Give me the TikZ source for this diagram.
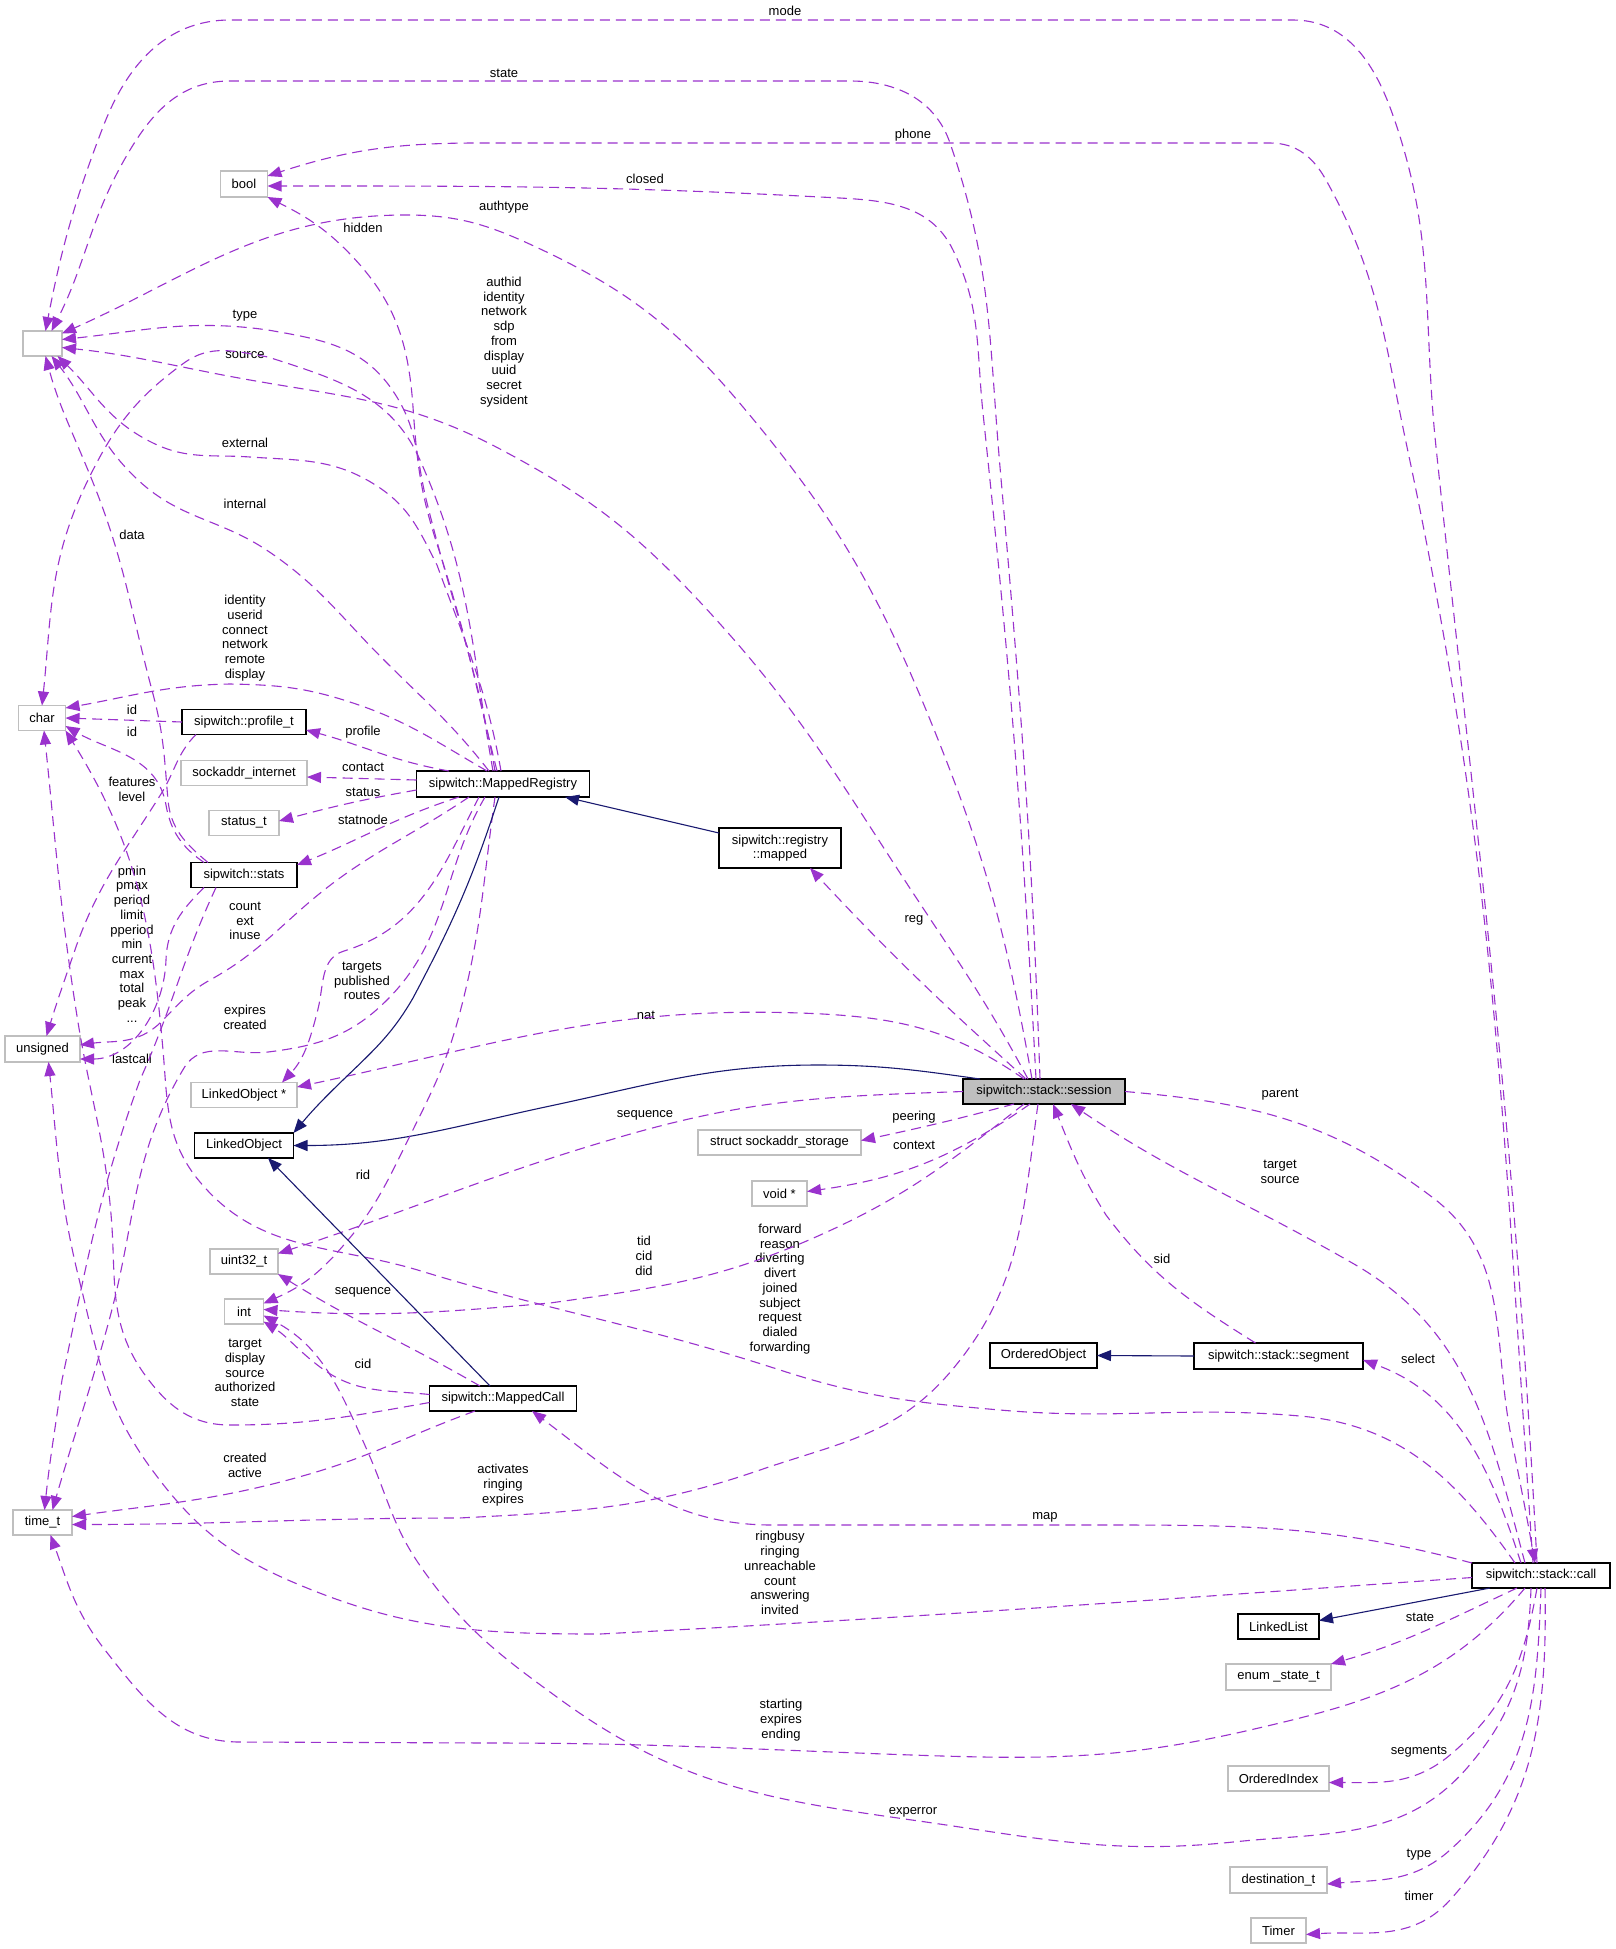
\documentclass[tikz,border=0pt]{standalone}
\usepackage{fontspec}
\setmainfont{Liberation Sans}
\usepackage{tikz}
\usetikzlibrary{arrows.meta}
\definecolor{usecol}{HTML}{9A32CD}
\definecolor{inhcol}{HTML}{191970}
\definecolor{framegray}{HTML}{BFBFBF}
\newcommand{\dotfont}{\fontsize{6.5}{7.35}\selectfont}
\tikzset{
  clase/.style={rectangle,draw=black,line width=0.6pt,fill=white,
    font=\dotfont,inner sep=0pt,minimum height=12.5pt,align=center},
  tipo/.style={rectangle,draw=framegray,line width=0.6pt,fill=white,
    font=\dotfont,inner sep=0pt,minimum height=12.5pt},
  foco/.style={clase,fill=framegray},
  usa/.style={draw=usecol,line width=0.55pt,dash pattern=on 5pt off 3pt,
    -{Triangle[length=7pt,width=5.5pt]}},
  hereda/.style={draw=inhcol,line width=0.55pt,-{Triangle[length=7pt,width=5.5pt]}}
}

\begin{document}
\begin{tikzpicture}[
  x=0.5pt,y=-0.5pt,
  rotulo/.style={font=\dotfont,align=center,inner sep=0pt},
  every node/.style={outer sep=0pt}
]
\path[use as bounding box,fill=white] (0,0) rectangle (1616,1949);

% 1. Clases y tipos
\node[tipo,minimum width=19.5pt] (anon) at (42.5,343.5) {};
\node[tipo,minimum width=23.5pt,minimum height=13pt] (bool) at (244,184) {bool};
\node[tipo,minimum width=23.5pt] (char) at (42,718) {char};
\node[clase,minimum width=62pt] (profile) at (244,722) {sipwitch::profile\_t};
\node[tipo,minimum width=63pt] (sockin) at (244,773) {sockaddr\_internet};
\node[tipo,minimum width=35pt] (statust) at (244,823) {status\_t};
\node[clase,minimum width=53pt] (stats) at (244,875) {sipwitch::stats};
\node[clase,minimum width=86.5pt,minimum height=13pt] (mreg) at (503,784) {sipwitch::MappedRegistry};
\node[tipo,minimum width=37.5pt,minimum height=13pt] (unsig) at (42.5,1049) {unsigned};
\node[tipo,minimum width=53pt] (lobjp) at (244,1095) {LinkedObject *};
\node[clase,minimum width=49.5pt] (lobj) at (244,1145.5) {LinkedObject};
\node[tipo,minimum width=34pt] (uint) at (244,1261.5) {uint32\_t};
\node[tipo,minimum width=19.5pt] (int) at (244,1311.5) {int};
\node[clase,minimum width=73.5pt] (mcall) at (503,1398.5) {sipwitch::MappedCall};
\node[tipo,minimum width=29.5pt] (timet) at (42.5,1522.5) {time\_t};
\node[clase,minimum width=61pt,minimum height=20pt] (rmapped) at (780,848) {sipwitch::registry\\::mapped};
\node[foco,minimum width=81pt] (session) at (1044,1091.5) {sipwitch::stack::session};
\node[tipo,minimum width=81.5pt] (sockst) at (779.5,1142.5) {struct sockaddr\_storage};
\node[tipo,minimum width=27.5pt] (voidp) at (779.5,1193.5) {void *};
\node[clase,minimum width=53.5pt] (oobj) at (1043.5,1355.5) {OrderedObject};
\node[clase,minimum width=84.5pt,minimum height=13pt] (segment) at (1278.5,1356) {sipwitch::stack::segment};
\node[clase,minimum width=69pt] (call) at (1541,1575.5) {sipwitch::stack::call};
\node[clase,minimum width=40.5pt] (llist) at (1278.5,1626.5) {LinkedList};
\node[tipo,minimum width=52.5pt,minimum height=13pt] (enumst) at (1278.5,1677) {enum \_state\_t};
\node[tipo,minimum width=50.5pt] (oindex) at (1278.5,1778.5) {OrderedIndex};
\node[tipo,minimum width=48.5pt,minimum height=13pt] (destt) at (1278.5,1880) {destination\_t};
\node[tipo,minimum width=27.5pt] (timer) at (1278.5,1930.5) {Timer};

% 2. Rotulos de los miembros
\node[rotulo] (r-mode) at (785,11) {mode};
\node[rotulo] (r-sstate) at (504,73) {state};
\node[rotulo] (r-phone) at (913,135) {phone};
\node[rotulo] (r-closed) at (645,179) {closed};
\node[rotulo] (r-authtype) at (504,207) {authtype};
\node[rotulo] (r-hidden) at (363,228) {hidden};
\node[rotulo] (r-authid) at (504,342) {authid\\identity\\network\\sdp\\from\\display\\uuid\\secret\\sysident};
\node[rotulo] (r-type) at (245,316) {type};
\node[rotulo] (r-source) at (245,355) {source};
\node[rotulo] (r-external) at (245,443) {external};
\node[rotulo] (r-internal) at (245,504) {internal};
\node[rotulo] (r-data) at (132,535) {data};
\node[rotulo] (r-identity) at (245,638) {identity\\userid\\connect\\network\\remote\\display};
\node[rotulo] (r-pid) at (132,710) {id};
\node[rotulo] (r-sid) at (132,732) {id};
\node[rotulo] (r-profile) at (363,732) {profile};
\node[rotulo] (r-contact) at (363,767) {contact};
\node[rotulo] (r-status) at (363,792) {status};
\node[rotulo] (r-statnode) at (363,820) {statnode};
\node[rotulo] (r-features) at (132,789) {features\\level};
\node[rotulo] (r-pmin) at (132,944) {pmin\\pmax\\period\\limit\\pperiod\\min\\current\\max\\total\\peak\\...};
\node[rotulo] (r-count) at (245,921) {count\\ext\\inuse};
\node[rotulo] (r-targets) at (362,981) {targets\\published\\routes};
\node[rotulo] (r-expires) at (245,1017) {expires\\created};
\node[rotulo] (r-lastcall) at (132,1059) {lastcall};
\node[rotulo] (r-rid) at (363,1175) {rid};
\node[rotulo] (r-mseq) at (363,1292) {sequence};
\node[rotulo] (r-cid) at (363,1364) {cid};
\node[rotulo] (r-target) at (245,1373) {target\\display\\source\\authorized\\state};
\node[rotulo] (r-created) at (245,1465) {created\\active};
\node[rotulo] (r-activates) at (503,1485) {activates\\ringing\\expires};
\node[rotulo] (r-reg) at (914,920) {reg};
\node[rotulo] (r-nat) at (646,1015) {nat};
\node[rotulo] (r-sseq) at (645,1115) {sequence};
\node[rotulo] (r-peering) at (914,1117) {peering};
\node[rotulo] (r-context) at (914,1145) {context};
\node[rotulo] (r-tid) at (644,1256) {tid\\cid\\did};
\node[rotulo] (r-forward) at (780,1289) {forward\\reason\\diverting\\divert\\joined\\subject\\request\\dialed\\forwarding};
\node[rotulo] (r-parent) at (1280,1095) {parent};
\node[rotulo] (r-tsource) at (1280,1172) {target\\source};
\node[rotulo] (r-ssid) at (1162,1259) {sid};
\node[rotulo] (r-select) at (1418,1359) {select};
\node[rotulo] (r-map) at (1045,1517) {map};
\node[rotulo] (r-ringbusy) at (780,1573) {ringbusy\\ringing\\unreachable\\count\\answering\\invited};
\node[rotulo] (r-starting) at (781,1720) {starting\\expires\\ending};
\node[rotulo] (r-experror) at (913,1812) {experror};
\node[rotulo] (r-cstate) at (1420,1617) {state};
\node[rotulo] (r-segments) at (1419,1752) {segments};
\node[rotulo] (r-ctype) at (1419,1855) {type};
\node[rotulo] (r-timer) at (1419,1896) {timer};

% 3. Miembros de sipwitch::stack::call
\draw[usa] ([xshift=-2pt]call.north) to[out=93,in=276] (1436,447) to[out=96,in=290] (1391,110)
  to[out=110,in=0] (1293,20) -- (230,20) to[out=180,in=69] (103,127) to[out=249,in=79] ([xshift=1.5pt]anon.north);
\draw[usa] ([xshift=-4pt]call.north) to[out=94,in=282] (1407,447) to[out=102,in=299] (1326,180)
  to[out=119,in=0] (1270,143) -- (478,143) to[out=180,in=18] ([yshift=4pt]bool.east);
\draw[usa] ([xshift=-8pt]call.north) to[out=105,in=-30] (1354,1264) to[out=150,in=-34] ([xshift=13.5pt]session.south);
\draw[usa] ([xshift=-10pt]call.north) to[out=108,in=-20] ([yshift=-2pt]segment.east);
\draw[usa] ([xshift=-13pt]call.north) to[out=125,in=-5] (1300,1416) to[out=175,in=-5] (1000,1410)
  to[out=175,in=-18] (780,1370) to[out=162,in=-17] (421,1271) to[out=163,in=-50] (200,1182)
  to[out=130,in=275] (163,1050) to[out=95,in=302] (char.south east);
\draw[usa] (call.north west) to[out=165,in=0] (1100,1525) -- (772,1525) to[out=180,in=-37] ([xshift=14.5pt]mcall.south);
\draw[usa] ([yshift=-1pt]call.west) to[out=184,in=3] (600,1634) to[out=180,in=-23] (295,1583)
  to[out=157,in=-54] (150,1467) to[out=126,in=-76] (80,1283) to[out=104,in=276] ([xshift=3pt]unsig.south);
\draw[usa] ([xshift=-8pt]call.south) to[out=230,in=13] (1250,1730) to[out=193,in=-2] (912,1755)
  to[out=178,in=0] (491,1743) -- (240,1742) to[out=180,in=-52] (105,1650) to[out=128,in=-70] ([xshift=4pt]timet.south);
\draw[usa] ([xshift=-5pt]call.south) to[out=268,in=49] (1467,1768) to[out=229,in=6] (1233,1842)
  to[out=186,in=-8] (912,1820) to[out=172,in=-36] (561,1700) to[out=144,in=-55] (421,1567)
  to[out=125,in=-66] (367,1450) to[out=114,in=-28] ([yshift=-2pt]int.east);
\draw[usa] ([xshift=-12pt]call.south) to[out=205,in=16] (enumst.north east);
\draw[usa] ([xshift=-2pt]call.south) to[out=260,in=40] (1450,1755) to[out=220,in=0] ([yshift=-2pt]oindex.east);
\draw[usa] (call.south) to[out=268,in=42] (1450,1850) to[out=222,in=5] ([yshift=-2pt]destt.east);
\draw[usa] ([xshift=2pt]call.south) to[out=271,in=48] (1450,1900) to[out=228,in=4] ([yshift=-2pt]timer.east);
\draw[hereda] ([xshift=-25.5pt]call.south) -- ([yshift=3pt]llist.east);

% 4. Miembros de sipwitch::stack::session
\draw[usa] ([xshift=-2pt]session.north) to[out=92,in=275] (1000,467) to[out=95,in=289] (950,143)
  to[out=109,in=0] (850,81) -- (230,81) to[out=180,in=59] (130,150) to[out=239,in=63] ([xshift=4.5pt]anon.north);
\draw[usa] ([xshift=-4pt]session.north) to[out=93,in=276] (983,413) to[out=96,in=296] (953,250)
  to[out=116,in=-3] (820,197) to[out=177,in=0] ([yshift=-1pt]bool.east);
\draw[usa] ([xshift=-6pt]session.north) to[out=100,in=292] (933,727) to[out=112,in=310] (743,407)
  to[out=130,in=335] (536,247) to[out=155,in=0] (406,215) to[out=180,in=24] ([yshift=5pt]anon.east);
\draw[usa] ([xshift=-8pt]session.north) to[out=118,in=-57] (900,873) to[out=123,in=-47] (700,602)
  to[out=133,in=-28] (500,449) to[out=152,in=-10] (250,380) to[out=170,in=-6] ([yshift=-2pt]anon.east);
\draw[usa] ([xshift=-9pt]session.north) to[out=138,in=-47] ([xshift=15pt]rmapped.south);
\draw[usa] ([xshift=-10pt]session.north) to[out=145,in=-2] (800,1013) to[out=178,in=12] ([yshift=4pt]lobjp.east);
\draw[hereda] ([xshift=-32pt]session.north) to[out=172,in=0] (818,1065) to[out=180,in=12] (550,1106)
  to[out=192,in=0] (lobj.east);
\draw[usa] (session.west) to[out=182,in=16] (627,1135) to[out=196,in=18] ([yshift=4pt]uint.east);
\draw[usa] ([xshift=-15pt]session.south) to[out=195,in=12] ([yshift=1pt]sockst.east);
\draw[usa] ([xshift=-7pt]session.south) to[out=215,in=8] ([yshift=1pt]voidp.east);
\draw[usa] ([xshift=-10pt]session.south) to[out=218,in=24] (818,1236) to[out=204,in=8] (550,1303)
  to[out=185,in=-4] ([yshift=1pt]int.east);
\draw[usa] ([xshift=-3pt]session.south) to[out=262,in=50] (952,1370) to[out=230,in=19] (760,1470)
  to[out=199,in=3] (459,1518) to[out=180,in=0] ([yshift=-1pt]timet.east);
\draw[usa] (session.east) to[out=-5,in=143] (1432,1197) to[out=-37,in=101] (1511,1436)
  to[out=-79,in=100] ([xshift=-3pt]call.north);

% 5. Miembros de sipwitch::MappedRegistry
\draw[usa] ([xshift=-3pt]mreg.north) to[out=104,in=-72] (437,544) to[out=108,in=-86] (413,407)
  to[out=94,in=-46] (350,254) to[out=134,in=-27] (bool.south east);
\draw[usa] ([xshift=-4pt]mreg.north) to[out=100,in=-76] (427,503) to[out=104,in=-56] (393,391)
  to[out=124,in=-10] (268,330) to[out=172,in=6] ([yshift=2pt]anon.east);
\draw[usa] ([xshift=-5pt]mreg.north) to[out=100,in=-66] (420,460) to[out=114,in=-18] (268,357)
  to[out=170,in=36] (184,363) to[out=216,in=64] (88,480) to[out=244,in=84] (char.north);
\draw[usa] ([xshift=-1pt]mreg.north) to[out=100,in=-70] (437,565) to[out=117,in=-33] (377,486)
  to[out=147,in=-4] (250,457) to[out=176,in=-26] (153,443) to[out=154,in=-44] ([xshift=7.5pt]anon.south);
\draw[usa] ([xshift=-7pt]mreg.north) to[out=128,in=-45] (383,659) to[out=135,in=-34] (268,551)
  to[out=146,in=-43] (138,480) to[out=137,in=-52] ([xshift=4.5pt]anon.south);
\draw[usa] ([xshift=-8pt]mreg.north) to[out=150,in=-18] (350,702) to[out=162,in=-1] (230,684)
  to[out=181,in=10] ([yshift=5pt]char.east);
\draw[usa] ([xshift=-27pt]mreg.north) to[out=170,in=-15] ([yshift=-4pt]profile.east);
\draw[usa] ([yshift=2pt]mreg.west) -- ([yshift=-2pt]sockin.east);
\draw[usa] ([yshift=-3pt]mreg.west) to[out=190,in=15] ([yshift=1pt]statust.east);
\draw[usa] ([xshift=-22pt]mreg.south) to[out=198,in=22] ([yshift=5pt]stats.east);
\draw[usa] ([xshift=-17pt]mreg.south) to[out=214,in=41] (306,905) to[out=221,in=29] (210,980)
  to[out=209,in=45] (161,1022) to[out=225,in=8] ([yshift=2pt]unsig.east);
\draw[usa] ([xshift=-12pt]mreg.south) to[out=243,in=17] (344,951) to[out=197,in=76] (318,1009)
  to[out=256,in=47] ([xshift=19pt]lobjp.north);
\draw[usa] ([xshift=-9pt]mreg.south) to[out=240,in=45] (387,1000) to[out=225,in=7] (268,1052)
  to[out=187,in=59] (184,1068) to[out=239,in=75] (110,1317) to[out=255,in=74] ([xshift=5pt]timet.north);
\draw[usa] ([xshift=-4pt]mreg.south) to[out=262,in=75] (459,1016) to[out=255,in=64] (403,1150)
  to[out=244,in=47] (333,1257) to[out=227,in=24] ([yshift=4pt]int.east);
\draw[hereda] ([xshift=-2pt]mreg.south) to[out=252,in=62] (413,998) to[out=240,in=44] (344,1079)
  to[out=224,in=50] (lobj.north east);
\draw[hereda] ([yshift=7.5pt]rmapped.west) -- ([xshift=31pt]mreg.south);

% 6. profile_t y stats
\draw[usa] ([xshift=-24pt]profile.south) to[out=225,in=58] (161,794) to[out=238,in=70] (77,944)
  to[out=251,in=73] ([xshift=2pt]unsig.north);
\draw[usa] (profile.west) -- (char.east);
\draw[usa] ([xshift=-20pt]stats.north) to[out=145,in=-80] (166,805) to[out=100,in=-30] ([yshift=-4pt]char.east);
\draw[usa] ([xshift=-18pt]stats.north) to[out=140,in=-85] (168,800) to[out=95,in=-75] (153,694)
  to[out=105,in=-68] (92,480) to[out=112,in=-75] ([xshift=1.5pt]anon.south);
\draw[usa] ([xshift=-20pt]stats.south) to[out=225,in=88] (166,960) to[out=268,in=0] ([yshift=-5pt]unsig.east);
\draw[usa] ([xshift=-14pt]stats.south) to[out=245,in=66] (140,1080) to[out=250,in=78] (62,1380)
  to[out=262,in=84] ([xshift=1pt]timet.north);

% 7. MappedCall y segment
\draw[hereda] ([xshift=-6.5pt]mcall.north) -- ([xshift=12pt]lobj.south);
\draw[usa] ([xshift=-11.5pt]mcall.north) to[out=150,in=-32] (uint.south east);
\draw[usa] ([yshift=2pt]mcall.west) to[out=174,in=-37] (320,1367) to[out=143,in=-32] ([yshift=-5pt]int.east);
\draw[usa] ([yshift=-2pt]mcall.west) to[out=190,in=0] (230,1425) to[out=180,in=-54] (145,1375)
  to[out=126,in=-85] (111,1214) to[out=95,in=-81] (77,1016) to[out=99,in=-84] ([xshift=1pt]char.south);
\draw[usa] ([xshift=-14pt]mcall.south) to[out=200,in=16] (306,1475) to[out=196,in=8] ([yshift=3pt]timet.east);
\draw[usa] ([xshift=-11.5pt]segment.north) to[out=148,in=-53] (1106,1215) to[out=122,in=-68] ([xshift=4.5pt]session.south);
\draw[hereda] (segment.west) -- (oobj.east);

\end{tikzpicture}
\end{document}
